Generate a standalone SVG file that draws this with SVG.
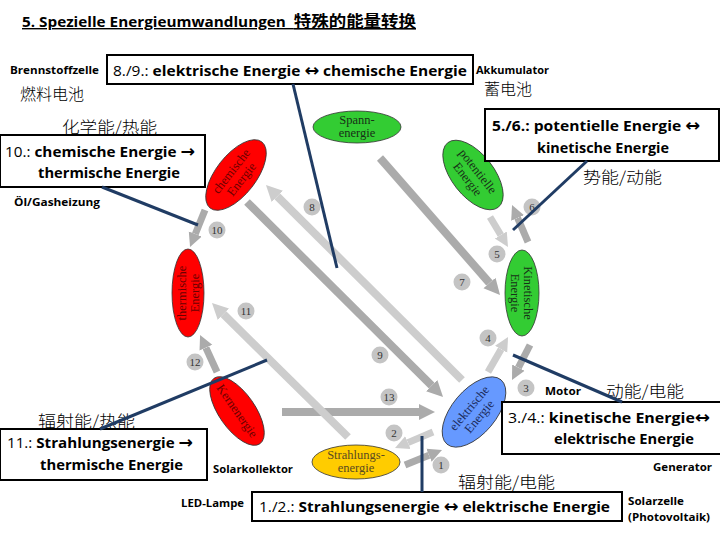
<svg xmlns="http://www.w3.org/2000/svg" width="720" height="540" viewBox="0 0 720 540">
<defs>
<style>
.box{fill:#fff;stroke:#000;stroke-width:2}
.bt{font-family:"Open Sans","Liberation Sans",sans-serif;font-size:15px;font-weight:bold;fill:#000}
.rg{font-weight:normal}
.ar{font-family:"DejaVu Sans",sans-serif;font-size:17px;font-weight:bold}
.sm{font-family:"Open Sans","Liberation Sans",sans-serif;font-size:11px;font-weight:bold;fill:#000}
.cjk{font-family:"Noto Sans CJK SC",sans-serif;font-size:16px;font-weight:300;fill:#000}
.et{font-family:"Liberation Serif",serif;font-size:12.5px;text-anchor:middle}
.num{font-family:"Liberation Serif",serif;font-size:11px;text-anchor:middle;fill:#333}
.nc{fill:#c4c4c4}
.dk{stroke:#ababab;fill:none}
.lt{stroke:#cdcdcd;fill:none}
.bl{stroke:#203c64;stroke-width:3;fill:none}
.ell{stroke:#333;stroke-width:0.8}
</style>
<marker id="ad" viewBox="0 0 10 10" refX="0" refY="5" markerWidth="2" markerHeight="2.6" orient="auto" markerUnits="strokeWidth"><path d="M0,0 L10,5 L0,10 z" fill="#ababab"/></marker>
<marker id="al" viewBox="0 0 10 10" refX="0" refY="5" markerWidth="2" markerHeight="2.6" orient="auto" markerUnits="strokeWidth"><path d="M0,0 L10,5 L0,10 z" fill="#cdcdcd"/></marker>
</defs>
<rect width="720" height="540" fill="#fff"/>

<g id="title">
<text x="22" y="27" class="bt" style="font-size:14px;text-decoration:underline" textLength="394" lengthAdjust="spacingAndGlyphs">5. Spezielle Energieumwandlungen&#160;&#160;<tspan style="font-family:'Noto Sans CJK SC',sans-serif;font-size:16px">特殊的能量转换</tspan></text>
</g>

<g id="arrows">
<line x1="247" y1="202" x2="431.7" y2="385.7" class="dk" stroke-width="8" marker-end="url(#ad)"/>
<line x1="462" y1="380" x2="277.3" y2="196.3" class="lt" stroke-width="8" marker-end="url(#al)"/>
<line x1="380" y1="158" x2="489.5" y2="283" class="dk" stroke-width="8" marker-end="url(#ad)"/>
<line x1="282" y1="412" x2="419" y2="412" class="dk" stroke-width="8" marker-end="url(#ad)"/>
<line x1="348" y1="437" x2="223.4" y2="314.2" class="lt" stroke-width="8" marker-end="url(#al)"/>
<line x1="205" y1="210" x2="195.3" y2="234" class="dk" stroke-width="7" marker-end="url(#ad)"/>
<line x1="217" y1="372" x2="205.9" y2="347.7" class="dk" stroke-width="7" marker-end="url(#ad)"/>
<line x1="490" y1="217" x2="500.8" y2="235" class="lt" stroke-width="7" marker-end="url(#al)"/>
<line x1="528" y1="242" x2="517.6" y2="217.9" class="dk" stroke-width="7" marker-end="url(#ad)"/>
<line x1="488" y1="372" x2="501.1" y2="349.2" class="lt" stroke-width="7" marker-end="url(#al)"/>
<line x1="530" y1="345" x2="518.4" y2="367.6" class="dk" stroke-width="7" marker-end="url(#ad)"/>
<line x1="433" y1="432" x2="407.9" y2="442.6" class="lt" stroke-width="7" marker-end="url(#al)"/>
<line x1="405" y1="465" x2="429" y2="455.3" class="dk" stroke-width="7" marker-end="url(#ad)"/>
</g>

<g id="numbers">
<circle cx="217" cy="230" r="8.5" class="nc"/><text x="217" y="234" class="num">10</text>
<circle cx="312" cy="207" r="8.5" class="nc"/><text x="312" y="211" class="num">8</text>
<circle cx="462" cy="282" r="8.5" class="nc"/><text x="462" y="286" class="num">7</text>
<circle cx="497" cy="254" r="8.5" class="nc"/><text x="497" y="258" class="num">5</text>
<circle cx="532" cy="207" r="8.5" class="nc"/><text x="532" y="211" class="num">6</text>
<circle cx="488" cy="338" r="8.5" class="nc"/><text x="488" y="342" class="num">4</text>
<circle cx="526" cy="388" r="8.5" class="nc"/><text x="526" y="392" class="num">3</text>
<circle cx="380" cy="355" r="8.5" class="nc"/><text x="380" y="359" class="num">9</text>
<circle cx="389" cy="397" r="8.5" class="nc"/><text x="389" y="401" class="num">13</text>
<circle cx="394" cy="433" r="8.5" class="nc"/><text x="394" y="437" class="num">2</text>
<circle cx="441" cy="465" r="8.5" class="nc"/><text x="441" y="469" class="num">1</text>
<circle cx="246" cy="311" r="8.5" class="nc"/><text x="246" y="315" class="num">11</text>
<circle cx="195" cy="362" r="8.5" class="nc"/><text x="195" y="366" class="num">12</text>
</g>

<g id="spann">
<ellipse cx="357" cy="127" rx="44" ry="16" fill="#3c3" class="ell"/>
<text x="357" y="124" class="et" fill="#173017">Spann-</text>
<text x="357" y="137" class="et" fill="#173017">energie</text>
</g>
<g id="potentielle" transform="translate(473,175) rotate(52)">
<ellipse cx="0" cy="0" rx="41" ry="21" fill="#3c3" class="ell"/>
<text x="0" y="-2" class="et" fill="#173017">potentielle</text>
<text x="0" y="11" class="et" fill="#173017">Energie</text>
</g>
<g id="kinetische" transform="translate(522,293) rotate(90)">
<ellipse cx="0" cy="0" rx="43" ry="17" fill="#3c3" class="ell"/>
<text x="0" y="-2" class="et" fill="#173017">Kinetische</text>
<text x="0" y="11" class="et" fill="#173017">Energie</text>
</g>
<g id="chemische" transform="translate(236,175) rotate(-52)">
<ellipse cx="0" cy="0" rx="42" ry="20" fill="#f00" class="ell"/>
<text x="0" y="-2" class="et" fill="#6a0000">chemische</text>
<text x="0" y="11" class="et" fill="#6a0000">Energie</text>
</g>
<g id="thermische" transform="translate(188,293) rotate(-90)">
<ellipse cx="0" cy="0" rx="44" ry="16" fill="#f00" class="ell"/>
<text x="0" y="-2" class="et" fill="#6a0000">thermische</text>
<text x="0" y="11" class="et" fill="#6a0000">Energie</text>
</g>
<g id="kern" transform="translate(237,411) rotate(55)">
<ellipse cx="0" cy="0" rx="40" ry="18" fill="#f00" class="ell"/>
<text x="0" y="4" class="et" fill="#6a0000">Kernenergie</text>
</g>
<g id="elektrische" transform="translate(474,412) rotate(-50)">
<ellipse cx="0" cy="0" rx="42" ry="22" fill="#69f" class="ell"/>
<text x="0" y="-2" class="et" fill="#1a2a5a">elektrische</text>
<text x="0" y="11" class="et" fill="#1a2a5a">Energie</text>
</g>
<g id="strahlung">
<ellipse cx="356" cy="462" rx="44" ry="17" fill="#fc0" class="ell"/>
<text x="356" y="459" class="et" fill="#5a4a20">Strahlungs-</text>
<text x="356" y="472" class="et" fill="#5a4a20">energie</text>
</g>

<g id="box89">
<rect x="107" y="55" width="366" height="29" class="box"/>
<text x="113" y="76" class="bt" textLength="354" lengthAdjust="spacingAndGlyphs"><tspan class="rg">8./9.:</tspan> elektrische Energie <tspan class="ar">↔</tspan> chemische Energie</text>
<text x="10" y="74" class="sm" textLength="89" lengthAdjust="spacingAndGlyphs">Brennstoffzelle</text>
<text x="20" y="100" class="cjk">燃料电池</text>
<text x="476" y="74" class="sm" textLength="73" lengthAdjust="spacingAndGlyphs">Akkumulator</text>
<text x="484" y="95" class="cjk">蓄电池</text>
</g>

<g id="box10">
<rect x="0" y="135" width="205" height="52" class="box"/>
<text x="5" y="157" class="bt" textLength="190" lengthAdjust="spacingAndGlyphs"><tspan class="rg">10.:</tspan> chemische Energie <tspan class="ar">→</tspan></text>
<text x="38" y="178" class="bt" textLength="142" lengthAdjust="spacingAndGlyphs">thermische Energie</text>
<text x="62" y="133" class="cjk" textLength="95" lengthAdjust="spacingAndGlyphs">化学能/热能</text>
<text x="14" y="206" class="sm" textLength="86" lengthAdjust="spacingAndGlyphs">Öl/Gasheizung</text>
</g>

<g id="box56">
<rect x="485" y="109" width="234" height="52" class="box"/>
<text x="492" y="131" class="bt" textLength="208" lengthAdjust="spacingAndGlyphs">5./6.: potentielle Energie <tspan class="ar">↔</tspan></text>
<text x="537" y="153" class="bt" textLength="132" lengthAdjust="spacingAndGlyphs">kinetische Energie</text>
<text x="583" y="183" class="cjk" textLength="79" lengthAdjust="spacingAndGlyphs">势能/动能</text>
</g>

<g id="box11">
<rect x="0" y="429" width="207" height="51" class="box"/>
<text x="7" y="448" class="bt" textLength="186" lengthAdjust="spacingAndGlyphs"><tspan class="rg">11.:</tspan> Strahlungsenergie <tspan class="ar">→</tspan></text>
<text x="40" y="470" class="bt" textLength="143" lengthAdjust="spacingAndGlyphs">thermische Energie</text>
<text x="38" y="427" class="cjk" textLength="97" lengthAdjust="spacingAndGlyphs">辐射能/热能</text>
<text x="213" y="473" class="sm" textLength="80" lengthAdjust="spacingAndGlyphs">Solarkollektor</text>
</g>

<g id="box12">
<rect x="252" y="492" width="370" height="29" class="box"/>
<text x="259" y="512" class="bt" textLength="351" lengthAdjust="spacingAndGlyphs"><tspan class="rg">1./2.:</tspan> Strahlungsenergie <tspan class="ar">↔</tspan> elektrische Energie</text>
<text x="458" y="488" class="cjk" textLength="97" lengthAdjust="spacingAndGlyphs">辐射能/电能</text>
<text x="181" y="507" class="sm" textLength="63" lengthAdjust="spacingAndGlyphs">LED-Lampe</text>
<text x="628" y="505" class="sm" textLength="56" lengthAdjust="spacingAndGlyphs">Solarzelle</text>
<text x="628" y="521" class="sm" textLength="82" lengthAdjust="spacingAndGlyphs">(Photovoltaik)</text>
</g>

<g id="box34">
<rect x="502" y="402" width="220" height="52" class="box"/>
<text x="508" y="423" class="bt" textLength="202" lengthAdjust="spacingAndGlyphs"><tspan class="rg">3./4.:</tspan> kinetische Energie<tspan class="ar">↔</tspan></text>
<text x="554" y="444" class="bt" textLength="140" lengthAdjust="spacingAndGlyphs">elektrische Energie</text>
<text x="606" y="397" class="cjk" textLength="78" lengthAdjust="spacingAndGlyphs">动能/电能</text>
<text x="545" y="395" class="sm" textLength="36" lengthAdjust="spacingAndGlyphs">Motor</text>
<text x="653" y="471" class="sm" textLength="59" lengthAdjust="spacingAndGlyphs">Generator</text>
</g>

<g id="connectors">
<line x1="293" y1="84" x2="337" y2="268" class="bl"/>
<line x1="102" y1="187" x2="198" y2="225" class="bl"/>
<line x1="587" y1="161" x2="513" y2="230" class="bl"/>
<line x1="100" y1="429" x2="267" y2="360" class="bl"/>
<line x1="422" y1="492" x2="422" y2="436" class="bl"/>
<line x1="622" y1="402" x2="513" y2="355" class="bl"/>
</g>
</svg>
